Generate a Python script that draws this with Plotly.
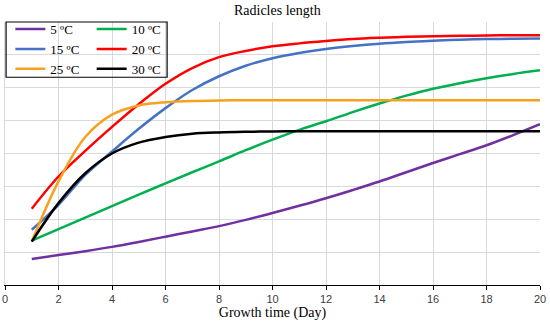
import plotly.graph_objects as go

days = list(range(1, 21))
t5 = [0.79, 0.91, 1.03, 1.16, 1.31, 1.47, 1.63, 1.79, 1.98, 2.19, 2.41, 2.64, 2.89, 3.15, 3.43, 3.71, 3.98, 4.25, 4.56, 4.89]
t10 = [1.35, 1.70, 2.05, 2.40, 2.75, 3.09, 3.43, 3.76, 4.10, 4.42, 4.72, 4.98, 5.26, 5.52, 5.76, 5.97, 6.14, 6.29, 6.42, 6.53]
t15 = [1.68, 2.44, 3.35, 4.06, 4.75, 5.38, 5.93, 6.35, 6.67, 6.90, 7.06, 7.18, 7.27, 7.34, 7.39, 7.43, 7.46, 7.48, 7.49, 7.50]
t20 = [2.32, 3.30, 4.08, 4.81, 5.50, 6.12, 6.60, 6.93, 7.12, 7.26, 7.35, 7.42, 7.48, 7.52, 7.55, 7.57, 7.58, 7.59, 7.60, 7.60]
t25 = [1.32, 3.15, 4.50, 5.18, 5.46, 5.56, 5.60, 5.61, 5.62, 5.62, 5.62, 5.62, 5.62, 5.62, 5.62, 5.62, 5.62, 5.62, 5.62, 5.62]
t30 = [1.32, 2.49, 3.40, 4.00, 4.33, 4.50, 4.60, 4.64, 4.66, 4.67, 4.68, 4.68, 4.68, 4.68, 4.68, 4.68, 4.68, 4.68, 4.68, 4.68]

names = ["5 ºC", "10 ºC", "15 ºC", "20 ºC", "25 ºC", "30 ºC"]
series = [t5, t10, t15, t20, t25, t30]
colors = ["#7030A0", "#00B050", "#4472C4", "#FF0000", "#F7A11E", "#000000"]
legends = ["legend", "legend2", "legend", "legend2", "legend", "legend2"]

fig = go.Figure()
for name, ys, c, lg in zip(names, series, colors, legends):
    fig.add_trace(go.Scatter(x=days, y=ys, mode="lines", name=name,
                             line=dict(color=c, width=2.5, shape="spline", smoothing=1.0),
                             legend=lg))

serif = "Liberation Serif"
legend_common = dict(bgcolor="rgba(0,0,0,0)", borderwidth=0,
                     font=dict(family=serif, size=13, color="#000"),
                     yanchor="top", y=1.03, xanchor="left", tracegroupgap=0,
                     itemwidth=30)

fig.update_layout(
    width=550, height=322,
    margin=dict(l=5, r=10, t=22, b=37),
    paper_bgcolor="white", plot_bgcolor="white",
    title=dict(text="Radicles length", x=0.509, xanchor="center", xref="paper",
               y=0.969, yanchor="middle", yref="container",
               font=dict(family=serif, size=14, color="#000")),
    legend=dict(x=0.01, **legend_common),
    legend2=dict(x=0.162, **legend_common),
    shapes=[dict(type="rect", xref="paper", yref="paper", x0=0.002, x1=0.303,
                 y0=0.79, y1=1.0, line=dict(color="#000", width=1.2),
                 fillcolor="rgba(0,0,0,0)", layer="above")],
    xaxis=dict(range=[0, 20], dtick=2, tick0=0, showgrid=True, gridcolor="#d9d9d9",
               gridwidth=1, zeroline=False, showline=True, linecolor="#000", linewidth=1.2,
               ticks="outside", ticklen=4, tickcolor="#000", automargin=False,
               tickfont=dict(family="Liberation Sans", size=11, color="#404040"),
               title=dict(text="Growth time (Day)", standoff=2,
                          font=dict(family=serif, size=14, color="#000"))),
    yaxis=dict(range=[0, 8], dtick=1, showgrid=True, gridcolor="#d9d9d9", gridwidth=1,
               zeroline=False, showticklabels=False, showline=True, linecolor="#d9d9d9",
               ticks="", automargin=False),
)

fig.write_html("out.html", config={"displayModeBar": False},
               post_script="document.body.style.margin='0';document.body.style.overflow='hidden';")
